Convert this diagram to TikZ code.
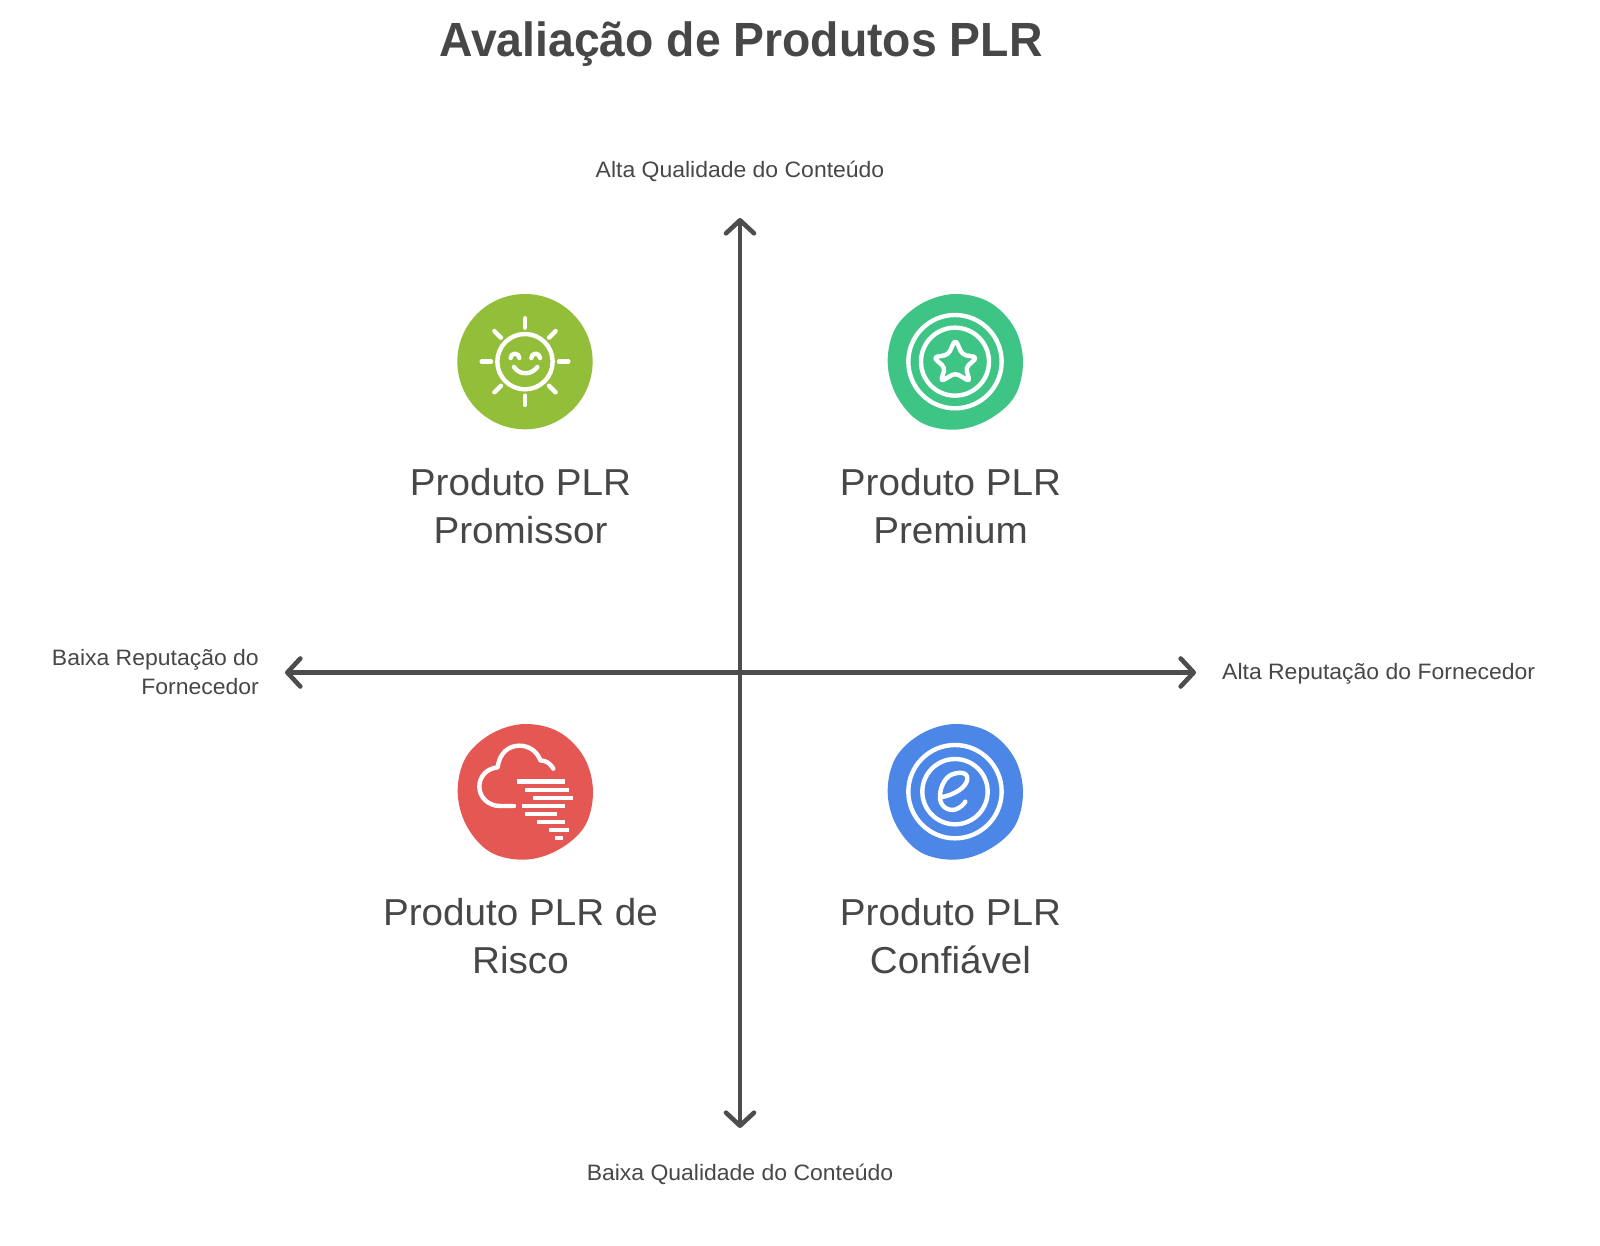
\documentclass[tikz,border=0pt]{standalone}
\usepackage{fontspec}
\setmainfont{Liberation Sans}
\newfontfamily\titlefont[FakeStretch=0.965]{Liberation Sans}
\newfontfamily\bodyfont[FakeStretch=1.03]{Liberation Sans}
\usetikzlibrary{arrows.meta}
\definecolor{ink}{HTML}{474747}
\definecolor{axisc}{HTML}{4D4D4D}
\definecolor{cgreen}{HTML}{93BE3A}
\definecolor{cteal}{HTML}{3EC585}
\definecolor{cred}{HTML}{E55753}
\definecolor{cblue}{HTML}{4C87E8}
\tikzset{
  axisline/.style={draw=axisc,line width=4.6pt,line cap=round,{Straight Barb[length=13pt,width=28pt,line width=4.6pt,round]}-{Straight Barb[length=13pt,width=28pt,line width=4.6pt,round]}},
  quadlabel/.style={align=center,text=ink,font=\bodyfont\fontsize{37.5}{48}\selectfont,inner sep=0pt},
  axislabel/.style={text=ink,font=\bodyfont\fontsize{22.3}{28.5}\selectfont,inner sep=0pt},
  icon/.style={draw=white,line width=4.4pt,line cap=round,line join=round},
  zoomed/.style={x=0.3333pt,y=-0.3333pt}
}
\newcommand{\blobshape}{plot[smooth cycle,tension=0.6] coordinates {(0:204)(30:207)(60:201)(90:204)(120:209)(150:203)(180:202)(210:205)(240:201)(270:203)(300:206)(330:205)}}
\begin{document}
\begin{tikzpicture}[x=1pt,y=-1pt]
\useasboundingbox (0,0) rectangle (1600,1246);
\fill[white] (0,0) rectangle (1600,1246);
\node[text=ink,inner sep=0pt,font=\titlefont\fontsize{48}{56}\bfseries\selectfont] (title) at (741,44.5) {Avaliação de Produtos PLR};
\coordinate (top) at (740,218);
\coordinate (bottom) at (740,1128);
\coordinate (left) at (285,672.5);
\coordinate (right) at (1196,672.5);
\draw[axisline] (bottom) -- (top);
\draw[axisline] (left) -- (right);
\node[axislabel] (ltop) at (740,171) {Alta Qualidade do Conteúdo};
\node[axislabel] (lbottom) at (740,1174.5) {Baixa Qualidade do Conteúdo};
\node[axislabel,align=right,anchor=east] (lleft) at (259,672) {Baixa Reputação do\\Fornecedor};
\node[axislabel,anchor=west] (lright) at (1222,674) {Alta Reputação do Fornecedor};
\node[quadlabel] (promissor) at (520.5,506.5) {Produto PLR\\Promissor};
\node[quadlabel] (premium) at (950.5,506.5) {Produto PLR\\Premium};
\node[quadlabel] (risco) at (520.5,936.5) {Produto PLR de\\Risco};
\node[quadlabel] (confiavel) at (950.5,936.5) {Produto PLR\\Confiável};
% sun
\begin{scope}[shift={(430,270)},zoomed]
\fill[cgreen] (285,275) circle[radius=203];
\draw[icon] (285,275) circle[radius=83];
\foreach \a in {0,45,...,315}{\draw[icon] (285,275)++(\a:102) -- ++(\a:28);}
\draw[icon] (242,264) arc[start angle=180,end angle=360,radius=13];
\draw[icon] (304,264) arc[start angle=180,end angle=360,radius=13];
\draw[icon] (252,291) .. controls (268,316) and (304,316) .. (322,291);
\end{scope}
% star
\begin{scope}[shift={(850,270)},zoomed]
\fill[cteal,shift={(315,275)}] \blobshape;
\draw[icon] (315,275) circle[radius=140];
\draw[icon] (315,275) circle[radius=102];
\draw[icon,rounded corners=4pt] (316,208) -- (337,254) -- (382,262) -- (347,293) -- (360,335) -- (316,309) -- (272,335) -- (285,293) -- (250,262) -- (295,254) -- cycle;
\end{scope}
% cloud
\begin{scope}[shift={(430,690)},zoomed]
\fill[cred,shift={(285,305)}] \blobshape;
\draw[icon] (252,348) -- (210,348) .. controls (175,348) and (148,322) .. (148,290) .. controls (148,258) and (172,235) .. (203,232) .. controls (208,190) and (235,167) .. (268,167) .. controls (298,167) and (322,185) .. (331,211) .. controls (350,212) and (362,222) .. (370,236);
\foreach \xa/\xb/\yy in {265/402/275,289/414/300,313/425/324,278/402/348,289/378/372,325/402/396,361/414/420,379/396/444}
  {\draw[icon,line cap=butt] (\xa-3,\yy) -- (\xb+3,\yy);}
\end{scope}
% e
\begin{scope}[shift={(850,690)},zoomed]
\fill[cblue,shift={(315,305)}] \blobshape;
\draw[icon] (315,305) circle[radius=140];
\draw[icon] (315,305) circle[radius=98];
\draw[icon] (272,322) .. controls (315,315) and (352,290) .. (352,265) .. controls (352,245) and (325,245) .. (302,255) .. controls (280,268) and (268,300) .. (270,325) .. controls (272,350) and (295,365) .. (318,358) .. controls (330,353) and (340,345) .. (346,335);
\end{scope}
\end{tikzpicture}
\end{document}
